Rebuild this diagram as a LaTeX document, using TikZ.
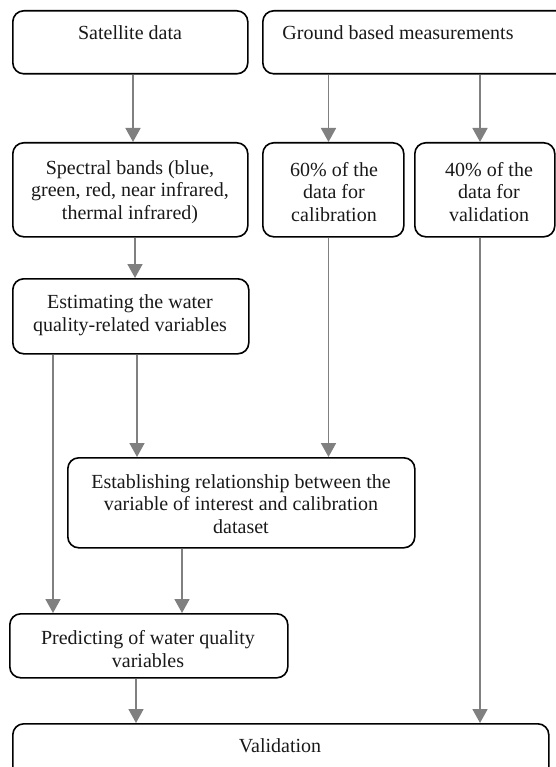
\documentclass[tikz,border=0pt]{standalone}
\usepackage{fontspec}
\setmainfont{Liberation Serif}
\usetikzlibrary{arrows.meta}
\definecolor{arrgray}{RGB}{128,128,128}
\tikzset{
  box/.style={draw=black, line width=1.6pt, rounded corners=11pt, inner sep=0pt, anchor=north west},
  txt/.style={font=\fontsize{20pt}{22.5pt}\selectfont, align=center, inner sep=0pt, text=black!90},
  arr/.style={draw=arrgray, line width=1.8pt, -{Triangle[length=14pt,width=15pt]}},
  ln/.style={draw=arrgray, line width=1.8pt}
}
\begin{document}
\begin{tikzpicture}[x=1pt,y=-1pt]
\useasboundingbox (0,0) rectangle (555,767);
% boxes
\node[box, minimum width=235pt, minimum height=63pt] (sat) at (12,10) {};
\node[box, minimum width=312pt, minimum height=63pt] (gnd) at (262,10) {};
\node[box, minimum width=235pt, minimum height=94pt] (spec) at (12,142) {};
\node[box, minimum width=141pt, minimum height=94pt] (p60) at (262,142) {};
\node[box, minimum width=140pt, minimum height=94pt] (p40) at (414,142) {};
\node[box, minimum width=236pt, minimum height=75pt] (est) at (12,278) {};
\node[box, minimum width=347pt, minimum height=90pt] (estab) at (67,457) {};
\node[box, minimum width=278pt, minimum height=64pt] (pred) at (9,613) {};
\node[box, minimum width=536pt, minimum height=62pt] (val) at (12,723) {};
% texts
\node[txt] (satT) at (130,33) {Satellite data};
\node[txt] (gndT) at (398,33) {Ground based measurements};
\node[txt] (specT) at (130,192) {Spectral bands (blue,\\green, red, near infrared,\\thermal infrared)};
\node[txt] (p60T) at (334,192) {60\% of the\\data for\\calibration};
\node[txt] (p40T) at (489,192) {40\% of the\\data for\\validation};
\node[txt] (estT) at (130,315) {Estimating the water\\quality-related variables};
\node[txt] (estabT) at (241,504) {Establishing relationship between the\\variable of interest and calibration\\dataset};
\node[txt] (predT) at (148,649) {Predicting of water quality\\variables};
\node[txt] (valT) at (280,746) {Validation};
% column coordinates
\coordinate (xa) at (133,0);
\coordinate (xb) at (328.5,0);
\coordinate (xc) at (480,0);
\coordinate (xd) at (135,0);
\coordinate (xe) at (137,0);
\coordinate (xf) at (53,0);
\coordinate (xg) at (182,0);
\coordinate (xh) at (136,0);
% connectors
\draw[arr] (sat.south -| xa) -- (spec.north -| xa);
\draw[arr] (gnd.south -| xb) -- (p60.north -| xb);
\draw[arr] (gnd.south -| xc) -- (p40.north -| xc);
\draw[arr] (spec.south -| xd) -- (est.north -| xd);
\draw[arr] (est.south -| xe) -- (estab.north -| xe);
\draw[arr] (p60.south -| xb) -- (estab.north -| xb);
\draw[arr] (est.south -| xf) -- (pred.north -| xf);
\draw[arr] (estab.south -| xg) -- (pred.north -| xg);
\draw[arr] (pred.south -| xh) -- (val.north -| xh);
\draw[arr] (p40.south -| xc) -- (val.north -| xc);
\end{tikzpicture}
\end{document}
